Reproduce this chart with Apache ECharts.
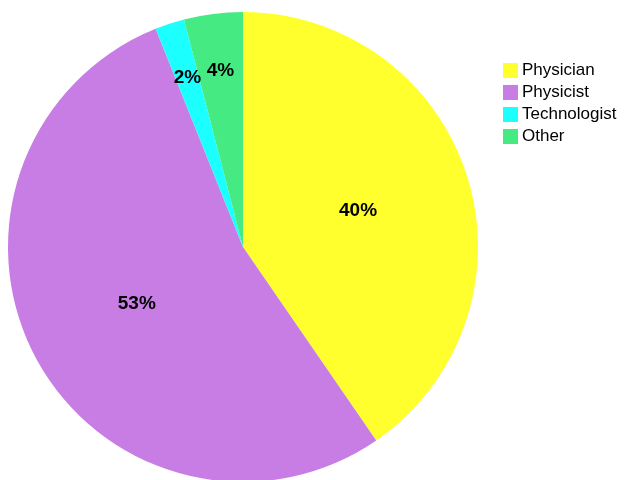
<!DOCTYPE html>
<html>
<head>
<meta charset="utf-8">
<script src="https://cdn.jsdelivr.net/npm/echarts@6/dist/echarts.min.js"></script>
<style>
  html, body { margin: 0; padding: 0; background: #ffffff; }
  #chart { width: 630px; height: 480px; }
</style>
</head>
<body>
<div id="chart"></div>
<script>
// Share of respondents by profession (percent)
const categories = ['Physician', 'Physicist', 'Technologist', 'Other'];
const shares = [40, 53, 2, 4];
const sliceColors = ['#FFFF2E', '#C77DE3', '#1CFFFF', '#45EA83'];
// Thin slices get their label placed further out along the radius
const outerLabelled = ['Technologist', 'Other'];

const labelFont = {
  fontFamily: 'Liberation Sans, Arial, sans-serif',
  fontWeight: 'bold',
  fontSize: 19,
  color: '#000000'
};

const pieData = categories.map((name, i) => ({
  name: name,
  value: shares[i],
  itemStyle: { color: sliceColors[i] },
  label: { show: !outerLabelled.includes(name) }
}));

const outerLabelData = categories.map((name, i) => ({
  name: name,
  value: shares[i],
  itemStyle: { color: 'rgba(0,0,0,0)' },
  label: { show: outerLabelled.includes(name) }
}));

const chart = echarts.init(document.getElementById('chart'), null, { renderer: 'canvas' });

chart.setOption({
  animation: false,
  backgroundColor: '#ffffff',
  legend: {
    orient: 'vertical',
    left: 498,
    top: 57,
    itemWidth: 15,
    itemHeight: 15,
    itemGap: 5,
    icon: 'rect',
    selectedMode: false,
    textStyle: {
      fontFamily: 'Liberation Sans, Arial, sans-serif',
      fontSize: 17,
      color: '#000000',
      padding: [0, 0, 0, -1]
    },
    data: categories.map((name, i) => ({ name: name, itemStyle: { color: sliceColors[i] } }))
  },
  series: [
    {
      type: 'pie',
      center: [243, 247],
      radius: [0, 235],
      startAngle: 90,
      clockwise: true,
      avoidLabelOverlap: false,
      emphasis: { disabled: true },
      itemStyle: { borderWidth: 0 },
      label: Object.assign({ position: 'inside', formatter: '{c}%' }, labelFont),
      labelLine: { show: false },
      data: pieData
    },
    {
      type: 'pie',
      silent: true,
      center: [243, 247],
      radius: [115, 235],
      startAngle: 90,
      clockwise: true,
      avoidLabelOverlap: false,
      emphasis: { disabled: true },
      itemStyle: { borderWidth: 0 },
      label: Object.assign({ position: 'inside', formatter: '{c}%' }, labelFont),
      labelLine: { show: false },
      data: outerLabelData,
      z: 3
    }
  ]
});
</script>
</body>
</html>
